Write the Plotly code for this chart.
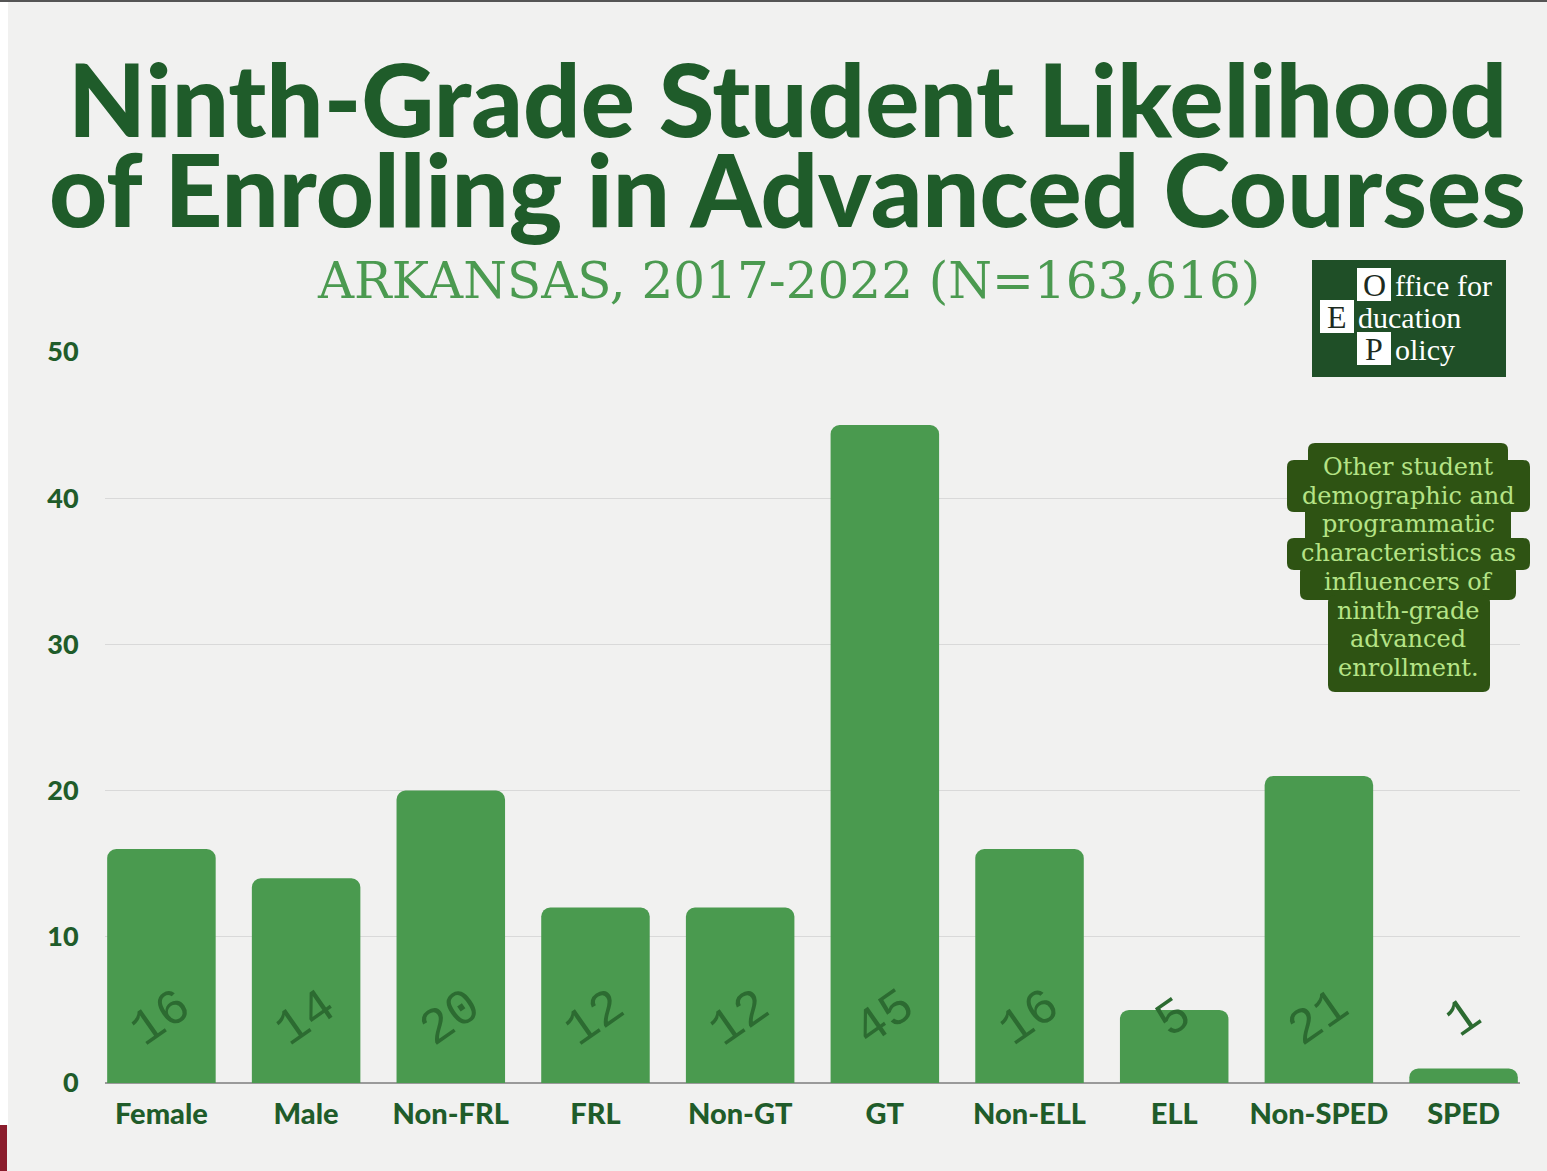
import plotly.graph_objects as go

# ---- data ----
categories = ["Female", "Male", "Non-FRL", "FRL", "Non-GT", "GT",
              "Non-ELL", "ELL", "Non-SPED", "SPED"]
likelihood = [16, 14, 20, 12, 12, 45, 16, 5, 21, 1]
y_ticks = [0, 10, 20, 30, 40, 50]

title_lines = ["Ninth-Grade Student Likelihood", "of Enrolling in Advanced Courses"]
subtitle = "ARKANSAS, 2017-2022 (N=163,616)"
note_lines = ["Other student", "demographic and", "programmatic",
              "characteristics as", "influencers of", "ninth-grade",
              "advanced", "enrollment."]

# ---- style ----
W, H = 1547, 1171
L, R, T, B = 105, 1520, 352, 1083  # plot area in pixels
BAR = "#4a9a4f"
DARK = "#1f5c2a"
LABEL = "#2c6b31"
BG = "#f1f1f0"


def px(x):
    return (x - L) / (R - L)


def py(y):
    return (B - y) / (B - T)


fig = go.Figure()
fig.add_trace(go.Bar(
    x=categories, y=likelihood,
    marker=dict(color=BAR, cornerradius=9, line=dict(width=0)),
    hoverinfo="x+y",
))

annotations = []
shapes = []

# rotated value labels near the base of each bar
for cat, v in zip(categories, likelihood):
    annotations.append(dict(
        x=cat, y=4.4, xref="x", yref="y", text=str(v), showarrow=False,
        textangle=-35, font=dict(family="Liberation Mono", size=50, color=LABEL),
    ))

# title (two lines set tightly)
for i, line in enumerate(title_lines):
    annotations.append(dict(
        x=px(787), y=py(98 + i * 90), xref="paper", yref="paper",
        text=line, showarrow=False, xanchor="center", yanchor="middle",
        font=dict(family="Lato", size=101, color=DARK, weight=900),
    ))

# subtitle
annotations.append(dict(
    x=px(788), y=py(281), xref="paper", yref="paper", text=subtitle,
    showarrow=False, xanchor="center", yanchor="middle",
    font=dict(family="DejaVu Serif", size=50, color="#4b9a50"),
))

# logo block
shapes.append(dict(type="rect", xref="paper", yref="paper",
                   x0=px(1312), x1=px(1506), y0=py(377), y1=py(260),
                   fillcolor="#1f4f27", line=dict(width=0), layer="above"))
logo = [("O", 1357, 268, "ffice for"), ("E", 1320, 300, "ducation"),
        ("P", 1357, 332, "olicy")]
for letter, x0, y0, rest in logo:
    shapes.append(dict(type="rect", xref="paper", yref="paper",
                       x0=px(x0), x1=px(x0 + 34), y0=py(y0 + 33), y1=py(y0),
                       fillcolor="#ffffff", line=dict(width=0), layer="above"))
    annotations.append(dict(
        x=px(x0 + 17), y=py(y0 + 17), xref="paper", yref="paper", text=letter,
        showarrow=False, xanchor="center", yanchor="middle",
        font=dict(family="Liberation Serif", size=32, color="#1d2b1f"),
    ))
    annotations.append(dict(
        x=px(x0 + 36), y=py(y0 + 18), xref="paper", yref="paper", text=rest,
        showarrow=False, xanchor="left", yanchor="middle",
        font=dict(family="Liberation Serif", size=30, color="#ffffff"),
    ))

# note badge built from stacked rounded blocks
NOTE_BG = "#2e5313"
blocks = [(1308, 1508, 443, 470), (1287, 1530, 460, 512), (1305, 1511, 505, 545),
          (1287, 1530, 538, 570), (1300, 1516, 565, 600), (1328, 1490, 595, 692)]


def rounded(x0, x1, y0, y1, r=7):
    return (f"M{px(x0 + r)},{py(y0)} L{px(x1 - r)},{py(y0)} "
            f"Q{px(x1)},{py(y0)} {px(x1)},{py(y0 + r)} L{px(x1)},{py(y1 - r)} "
            f"Q{px(x1)},{py(y1)} {px(x1 - r)},{py(y1)} L{px(x0 + r)},{py(y1)} "
            f"Q{px(x0)},{py(y1)} {px(x0)},{py(y1 - r)} L{px(x0)},{py(y0 + r)} "
            f"Q{px(x0)},{py(y0)} {px(x0 + r)},{py(y0)} Z")


for b in blocks:
    shapes.append(dict(type="path", xref="paper", yref="paper", path=rounded(*b),
                       fillcolor=NOTE_BG, line=dict(width=0), layer="above"))
for i, line in enumerate(note_lines):
    annotations.append(dict(
        x=px(1408), y=py(467 + i * 28.7), xref="paper", yref="paper", text=line,
        showarrow=False, xanchor="center", yanchor="middle",
        font=dict(family="DejaVu Serif", size=24, color="#b5e386"),
    ))

# page edge details
shapes.append(dict(type="rect", xref="paper", yref="paper",
                   x0=px(0), x1=px(W), y0=py(2), y1=py(0),
                   fillcolor="#555555", line=dict(width=0), layer="above"))
shapes.append(dict(type="rect", xref="paper", yref="paper",
                   x0=px(0), x1=px(8), y0=py(1125), y1=py(2),
                   fillcolor="#ffffff", line=dict(width=0), layer="above"))
shapes.append(dict(type="rect", xref="paper", yref="paper",
                   x0=px(0), x1=px(7), y0=py(H), y1=py(1125),
                   fillcolor="#8a1c2c", line=dict(width=0), layer="above"))

fig.update_layout(
    width=W, height=H,
    margin=dict(l=L, r=W - R, t=T, b=H - B, autoexpand=False),
    paper_bgcolor=BG, plot_bgcolor=BG,
    bargap=0.25, showlegend=False,
    annotations=annotations, shapes=shapes,
    xaxis=dict(
        range=[-0.39, 9.39], showgrid=False, zeroline=False, showline=False,
        ticks="outside", ticklen=5, tickcolor="rgba(0,0,0,0)",
        tickfont=dict(family="Lato", size=29, color=DARK, weight=900),
        fixedrange=True,
    ),
    yaxis=dict(
        range=[0, 50], tickvals=y_ticks, showgrid=True, gridcolor="#d9d9d9",
        gridwidth=1, zeroline=True, zerolinecolor="#9a9a9a", zerolinewidth=2,
        ticks="outside", ticklen=20, tickcolor="rgba(0,0,0,0)",
        tickfont=dict(family="Lato", size=27, color=DARK, weight=900),
        fixedrange=True,
    ),
)

fig.write_html("out.html")
